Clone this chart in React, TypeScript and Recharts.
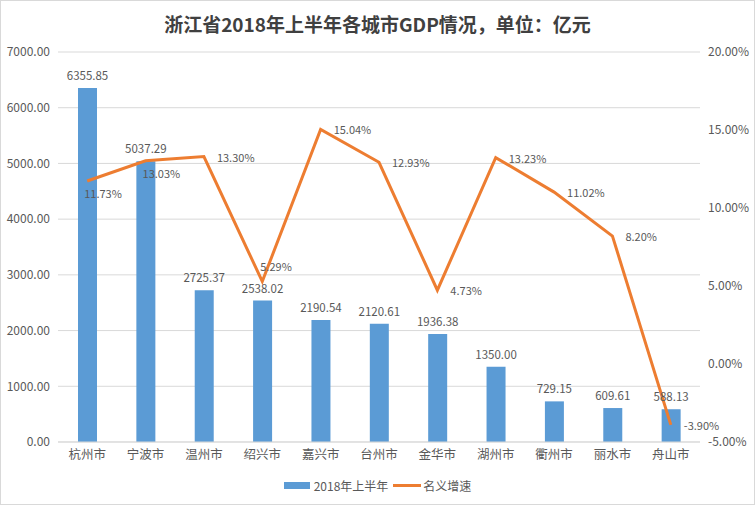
import { ComposedChart, Bar, Line, XAxis, YAxis, CartesianGrid, LabelList } from 'recharts'

const cities = ['杭州市', '宁波市', '温州市', '绍兴市', '嘉兴市', '台州市', '金华市', '湖州市', '衢州市', '丽水市', '舟山市']
const gdp = [6355.85, 5037.29, 2725.37, 2538.02, 2190.54, 2120.61, 1936.38, 1350.0, 729.15, 609.61, 588.13]
const growth = [11.73, 13.03, 13.3, 5.29, 15.04, 12.93, 4.73, 13.23, 11.02, 8.2, -3.9]
const gdpTicks = [0, 1000, 2000, 3000, 4000, 5000, 6000, 7000]
const growthTicks = [-5, 0, 5, 10, 15, 20]

const data = cities.map((city, i) => ({ city, gdp: gdp[i], growth: growth[i] }))

// where each growth label sits relative to its point
const LABEL_SIDE = ['below', 'below', 'right', 'above', 'right', 'right', 'right', 'right', 'right', 'right', 'right']

const FONT = '"Noto Sans CJK SC", "Noto Sans", sans-serif'
const TEXT = '#595959'
const BLUE = '#5B9BD5'
const ORANGE = '#ED7D31'

function GrowthLabel(props: any) {
  const { x, y, value, index } = props
  const side = LABEL_SIDE[index] || 'right'
  let tx = x + 13
  let ty = y
  if (side === 'below') { tx = x - 3; ty = y + 12 }
  if (side === 'above') { tx = x - 2; ty = y - 15 }
  return (
    <text x={tx} y={ty} fill={TEXT} fontSize={11} fontFamily={FONT} dominantBaseline="central">
      {`${Number(value).toFixed(2)}%`}
    </text>
  )
}

export default function App() {
  return (
    <div style={{ position: 'absolute', left: 0, top: 0, width: 755, height: 505, background: '#fff', fontFamily: FONT }}>
      <div style={{
        position: 'absolute', top: 10, left: 0, width: 755, textAlign: 'center',
        fontSize: 19, fontWeight: 700, color: '#404040',
      }}>
        浙江省2018年上半年各城市GDP情况，单位：亿元
      </div>

      <ComposedChart width={755} height={505} data={data} margin={{ top: 52, right: 0, bottom: 33, left: 0 }}>
        <CartesianGrid yAxisId="left" vertical={false} stroke="#D9D9D9" />
        <XAxis
          dataKey="city" height={30} tickLine={false}
          axisLine={{ stroke: '#D9D9D9' }}
          tick={{ fill: TEXT, fontSize: 12.5, fontFamily: FONT }}
        />
        <YAxis
          yAxisId="left" width={58} domain={[0, 7000]} ticks={gdpTicks}
          axisLine={false} tickLine={false}
          tickFormatter={(v: number) => v.toFixed(2)}
          tick={{ fill: TEXT, fontSize: 12, fontFamily: FONT }}
        />
        <YAxis
          yAxisId="right" orientation="right" width={55} domain={[-5, 20]} ticks={growthTicks}
          axisLine={false} tickLine={false}
          tickFormatter={(v: number) => `${v.toFixed(2)}%`}
          tick={{ fill: TEXT, fontSize: 12, fontFamily: FONT }}
        />
        <Bar yAxisId="left" dataKey="gdp" fill={BLUE} barSize={19} isAnimationActive={false}>
          <LabelList
            dataKey="gdp" position="top" offset={8}
            formatter={(v: any) => Number(v).toFixed(2)}
            fill={TEXT} fontSize={11.5} fontFamily={FONT}
          />
        </Bar>
        <Line
          yAxisId="right" dataKey="growth" type="linear" stroke={ORANGE} strokeWidth={3}
          dot={false} activeDot={false} isAnimationActive={false}
        >
          <LabelList dataKey="growth" content={<GrowthLabel />} />
        </Line>
      </ComposedChart>

      {/* legend */}
      <div style={{
        position: 'absolute', top: 477, left: 0, width: 755,
        display: 'flex', justifyContent: 'center', alignItems: 'center',
        fontSize: 12, color: TEXT,
      }}>
        <div style={{ width: 26, height: 7, background: BLUE, marginRight: 4 }} />
        <span>2018年上半年</span>
        <div style={{ width: 28, height: 3, background: ORANGE, marginLeft: 5, marginRight: 2 }} />
        <span>名义增速</span>
      </div>

      <div style={{
        position: 'absolute', left: 0, top: 0, width: 755, height: 505,
        boxSizing: 'border-box', border: '1px solid #D9D9D9', pointerEvents: 'none',
      }} />
    </div>
  )
}
